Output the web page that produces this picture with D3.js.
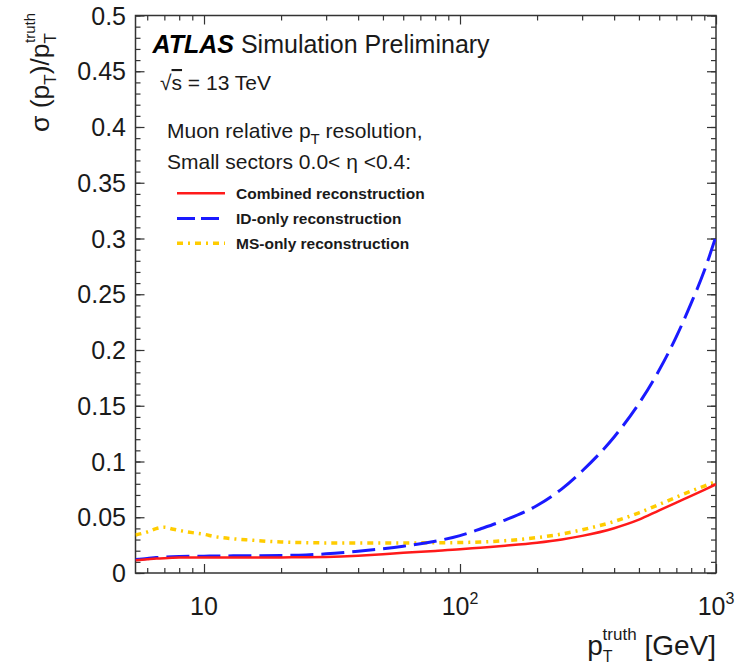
<!DOCTYPE html>
<html>
<head>
<meta charset="utf-8">
<script src="https://cdn.jsdelivr.net/npm/d3@7"></script>
<style>
  html, body { margin: 0; padding: 0; background: #fff; }
  svg { display: block; }
  text { font-family: "Liberation Sans", Arial, Helvetica, sans-serif; }
</style>
</head>
<body>
<svg id="chart" width="746" height="666"></svg>
<script>
// ---------------- data ----------------
const ptTruth = [5.4, 6, 6.5, 7, 7.5, 8, 9, 10, 11, 13, 15, 20, 25, 30, 40, 50, 60, 80, 100, 120, 150, 200, 250, 300, 400, 500, 600, 700, 800, 900, 1000];
const combinedRes = [0.0115, 0.0123, 0.0129, 0.0133, 0.0136, 0.0138, 0.0139, 0.0140, 0.0140, 0.0140, 0.0140, 0.0140, 0.0141, 0.0144, 0.0155, 0.0168, 0.0181, 0.0198, 0.0212, 0.0227, 0.0245, 0.0272, 0.0301, 0.0333, 0.0402, 0.0478, 0.0562, 0.0632, 0.0692, 0.0746, 0.0796];
const idOnlyRes = [0.0122, 0.0130, 0.0138, 0.0143, 0.0146, 0.0148, 0.0150, 0.0151, 0.0152, 0.0154, 0.0155, 0.0157, 0.0162, 0.0172, 0.0196, 0.0218, 0.0240, 0.0285, 0.0335, 0.0395, 0.0475, 0.0605, 0.0755, 0.0915, 0.1220, 0.1520, 0.1820, 0.2120, 0.2420, 0.2710, 0.3020];
const msOnlyRes = [0.0341, 0.0368, 0.0398, 0.0410, 0.0395, 0.0382, 0.0362, 0.0347, 0.0327, 0.0307, 0.0296, 0.0278, 0.0272, 0.0270, 0.0270, 0.0270, 0.0270, 0.0271, 0.0273, 0.0278, 0.0290, 0.0318, 0.0350, 0.0388, 0.0462, 0.0540, 0.0615, 0.0680, 0.0735, 0.0780, 0.0820];

const seriesNames = ["Combined reconstruction", "ID-only reconstruction", "MS-only reconstruction"];
const seriesColors = ["#ff1a1a", "#1a1aff", "#ffcc00"];
const seriesDash = [null, "23,8", "6,5,2,5"];
const seriesWidth = [2.5, 3, 3.5];
const seriesValues = [combinedRes, idOnlyRes, msOnlyRes];

const xDomain = [5.4, 1000];
const yDomain = [0, 0.5];
const yMajorTicks = [0, 0.05, 0.1, 0.15, 0.2, 0.25, 0.3, 0.35, 0.4, 0.45, 0.5];
const yTickLabels = ["0", "0.05", "0.1", "0.15", "0.2", "0.25", "0.3", "0.35", "0.4", "0.45", "0.5"];
const xMajorTicks = [10, 100, 1000];
const xTickBase = ["10", "10", "10"];
const xTickExp = ["", "2", "3"];
const xMinorTicks = [6, 7, 8, 9, 20, 30, 40, 50, 60, 70, 80, 90, 200, 300, 400, 500, 600, 700, 800, 900];
const yMinorTicks = d3.range(0, 51).map(d => d / 100);

// ---------------- layout ----------------
const svg = d3.select("#chart");
const m = { left: 135.5, top: 15.5, right: 716, bottom: 573 };
const W = m.right - m.left, H = m.bottom - m.top;
const x = d3.scaleLog().domain(xDomain).range([m.left, m.right]);
const y = d3.scaleLinear().domain(yDomain).range([m.bottom, m.top]);
const axisColor = "#333";
const textColor = "#1a1a1a";

svg.append("defs").append("clipPath").attr("id", "plotclip")
  .append("rect").attr("x", m.left).attr("y", m.top).attr("width", W).attr("height", H);

// ---------------- axes (ticks inward, mirrored) ----------------
function styleAxis(g) {
  g.select(".domain").remove();
  g.selectAll(".tick line").attr("stroke", axisColor).attr("stroke-width", 1.2);
  g.selectAll(".tick text").remove();
}
svg.append("g").attr("transform", `translate(${m.left},0)`)
  .call(d3.axisLeft(y).tickValues(yMinorTicks).tickSize(-5).tickFormat("")).call(styleAxis);
svg.append("g").attr("transform", `translate(${m.left},0)`)
  .call(d3.axisLeft(y).tickValues(yMajorTicks).tickSize(-9).tickFormat("")).call(styleAxis);
svg.append("g").attr("transform", `translate(${m.right},0)`)
  .call(d3.axisRight(y).tickValues(yMinorTicks).tickSize(-5).tickFormat("")).call(styleAxis);
svg.append("g").attr("transform", `translate(${m.right},0)`)
  .call(d3.axisRight(y).tickValues(yMajorTicks).tickSize(-9).tickFormat("")).call(styleAxis);
svg.append("g").attr("transform", `translate(0,${m.bottom})`)
  .call(d3.axisBottom(x).tickValues(xMinorTicks).tickSize(-5).tickFormat("")).call(styleAxis);
svg.append("g").attr("transform", `translate(0,${m.bottom})`)
  .call(d3.axisBottom(x).tickValues(xMajorTicks).tickSize(-9).tickFormat("")).call(styleAxis);
svg.append("g").attr("transform", `translate(0,${m.top})`)
  .call(d3.axisTop(x).tickValues(xMinorTicks).tickSize(-5).tickFormat("")).call(styleAxis);
svg.append("g").attr("transform", `translate(0,${m.top})`)
  .call(d3.axisTop(x).tickValues(xMajorTicks).tickSize(-9).tickFormat("")).call(styleAxis);

svg.append("rect").attr("x", m.left).attr("y", m.top).attr("width", W).attr("height", H)
  .attr("fill", "none").attr("stroke", axisColor).attr("stroke-width", 1.5);

// y tick labels
svg.append("g").selectAll("text").data(yMajorTicks).join("text")
  .attr("x", 126).attr("y", d => y(d) + 9)
  .attr("text-anchor", "end").attr("font-size", 25).attr("fill", textColor)
  .text((d, i) => yTickLabels[i]);

// x tick labels
const xl = svg.append("g").selectAll("text").data(xMajorTicks).join("text")
  .attr("x", d => x(d)).attr("y", 615)
  .attr("text-anchor", "middle").attr("font-size", 25).attr("fill", textColor);
xl.append("tspan").text((d, i) => xTickBase[i]);
xl.append("tspan").attr("dy", -11).attr("font-size", 16).text((d, i) => xTickExp[i]);

// axis titles
const xt = svg.append("text").attr("x", 716).attr("y", 655).attr("text-anchor", "end")
  .attr("font-size", 28).attr("fill", textColor);
xt.append("tspan").text("p");
xt.append("tspan").attr("font-size", 16).attr("dy", 7).text("T");
xt.append("tspan").attr("font-size", 17).attr("dx", -10).attr("dy", -22).text("truth");
xt.append("tspan").attr("dy", 15).text(" [GeV]");

const yt = svg.append("text").attr("transform", "translate(49,132) rotate(-90)")
  .attr("font-size", 26.5).attr("fill", textColor);
yt.append("tspan").text("σ (p");
yt.append("tspan").attr("font-size", 17).attr("dy", 7).text("T");
yt.append("tspan").attr("dy", -7).text(")/p");
yt.append("tspan").attr("font-size", 17).attr("dy", 7).text("T");
yt.append("tspan").attr("font-size", 15).attr("dx", -10).attr("dy", -21).text("truth");

// ---------------- curves ----------------
const line = d3.line().x((d, i) => x(ptTruth[i])).y(d => y(d)).curve(d3.curveMonotoneX);
const plot = svg.append("g").attr("clip-path", "url(#plotclip)");
[2, 1, 0].forEach(k => {
  plot.append("path").datum(seriesValues[k]).attr("d", line)
    .attr("fill", "none").attr("stroke", seriesColors[k]).attr("stroke-width", seriesWidth[k])
    .attr("stroke-dasharray", seriesDash[k]);
});

// ---------------- labels ----------------
const at = svg.append("text").attr("x", 152.5).attr("y", 52.5).attr("font-size", 25).attr("fill", "#000");
at.append("tspan").attr("font-weight", "bold").attr("font-style", "italic").text("ATLAS");
at.append("tspan").attr("fill", textColor).text(" Simulation Preliminary");

const rs = svg.append("text").attr("x", 160).attr("y", 90).attr("font-size", 21).attr("fill", textColor);
rs.append("tspan").text("√");
rs.append("tspan").attr("text-decoration", "overline").style("text-decoration", "overline").text("s");
rs.append("tspan").text(" = 13 TeV");

const mu = svg.append("text").attr("x", 167).attr("y", 137.5).attr("font-size", 21).attr("fill", textColor);
mu.append("tspan").text("Muon relative p");
mu.append("tspan").attr("font-size", 15).attr("dy", 6).text("T");
mu.append("tspan").attr("dy", -6).text(" resolution,");

svg.append("text").attr("x", 167).attr("y", 168.5).attr("font-size", 21).attr("fill", textColor)
  .text("Small sectors 0.0< η <0.4:");

// legend
const legY = [193.3, 218.5, 243.3];
const leg = svg.append("g");
seriesNames.forEach((name, k) => {
  leg.append("line").attr("x1", 177).attr("x2", 225).attr("y1", legY[k]).attr("y2", legY[k])
    .attr("stroke", seriesColors[k]).attr("stroke-width", seriesWidth[k])
    .attr("stroke-dasharray", k === 1 ? "18,6" : seriesDash[k]);
  leg.append("text").attr("x", 236).attr("y", legY[k] + 5.5).attr("font-size", 15.5)
    .attr("font-weight", "bold").attr("fill", textColor).text(name);
});
</script>
</body>
</html>
